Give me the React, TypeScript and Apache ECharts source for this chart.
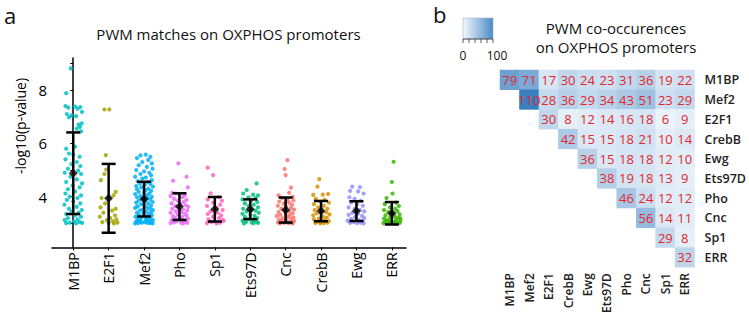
import React, { useEffect, useRef } from 'react';
import * as echarts from 'echarts';

// ---------- Panel a data ----------
const categories = ['M1BP', 'E2F1', 'Mef2', 'Pho', 'Sp1', 'Ets97D', 'Cnc', 'CrebB', 'Ewg', 'ERR'];
const pointColors = ['#00BFC4', '#A3A500', '#00B0F6', '#E76BF3', '#FF62BC', '#00BF7D', '#F8766D', '#D89000', '#9590FF', '#39B600'];
const meanValues = [4.88, 3.94, 3.91, 3.63, 3.53, 3.53, 3.5, 3.46, 3.46, 3.38];
const sdValues = [1.53, 1.29, 0.65, 0.5, 0.46, 0.37, 0.47, 0.38, 0.37, 0.42];
const yTickValues = [3, 4, 5, 6, 7, 8, 9];
const yLabelValues = [4, 6, 8];

// [jitter, -log10(p)]
const m1bpPoints = [
  [-0.07, 8.81], [-0.2, 7.88], [-0.22, 7.4], [0.05, 7.38], [-0.14, 7.34], [0.2, 7.36], [0.12, 7.3], [0.25, 7.18],
  [-0.18, 7.1], [-0.05, 7.05], [0.08, 7.02], [-0.12, 6.98], [0.24, 6.75], [0.15, 6.7], [0.19, 6.62], [0.1, 6.55],
  [0.22, 6.45], [0.05, 5.88], [-0.2, 5.8], [-0.12, 5.62], [0.0, 5.58], [0.18, 5.5], [-0.22, 5.4], [0.1, 5.3],
  [-0.05, 5.22], [0.2, 5.15], [-0.15, 5.05], [0.14, 4.98], [-0.24, 4.9], [0.22, 4.85], [-0.08, 4.75], [0.1, 4.65],
  [-0.2, 4.55], [0.25, 4.5], [-0.02, 4.42], [0.18, 4.35], [-0.15, 4.28], [0.05, 4.2], [-0.22, 4.12], [0.22, 4.05],
  [-0.1, 4.0], [0.12, 3.95], [-0.18, 3.88], [0.0, 3.82], [0.2, 3.75], [-0.25, 3.7], [0.1, 3.62], [-0.12, 3.55],
  [0.24, 3.5], [-0.05, 3.45], [0.15, 3.4], [-0.2, 3.35], [0.05, 3.3], [0.22, 3.25], [-0.15, 3.2], [0.12, 3.15],
  [-0.24, 3.12], [0.02, 3.08], [0.18, 3.05], [-0.1, 3.03], [0.25, 3.02], [-0.2, 3.01], [0.08, 3.0],
];
const e2f1Points = [
  [-0.12, 7.27], [0.02, 7.27], [-0.08, 5.56], [-0.07, 5.02], [-0.12, 4.85], [-0.22, 4.62], [0.2, 4.18], [0.14, 4.05],
  [-0.2, 3.95], [-0.1, 3.75], [-0.23, 3.6], [0.2, 3.55], [0.1, 3.48], [-0.15, 3.4], [0.18, 3.3], [-0.25, 3.25],
  [0.05, 3.2], [0.22, 3.15], [-0.05, 3.12], [0.12, 3.08], [-0.18, 3.05], [0.25, 3.03], [0.0, 3.02], [0.15, 3.0],
];
const mef2Points = [
  [-0.1, 5.55], [0.05, 5.58], [0.18, 5.5], [-0.2, 5.45], [0.12, 5.38], [-0.05, 5.3], [0.22, 5.25], [-0.15, 5.18],
  [0.08, 5.12], [0.24, 5.05], [-0.22, 5.0], [0.0, 4.95], [0.15, 4.9], [-0.1, 4.85], [0.2, 4.8], [-0.25, 4.75],
  [0.05, 4.72], [-0.05, 4.68], [0.22, 4.62], [-0.18, 4.58], [0.1, 4.55], [-0.12, 4.5], [0.18, 4.48], [0.02, 4.45],
  [-0.22, 4.4], [0.25, 4.38], [-0.08, 4.35], [0.12, 4.3], [-0.2, 4.28], [0.05, 4.25], [0.2, 4.22], [-0.15, 4.18],
  [0.0, 4.15], [0.15, 4.12], [-0.25, 4.1], [0.08, 4.05], [-0.1, 4.02], [0.22, 4.0], [-0.2, 3.98], [0.1, 3.95],
  [-0.05, 3.92], [0.18, 3.9], [-0.15, 3.86], [0.04, 3.84], [0.24, 3.8], [-0.22, 3.78], [0.12, 3.75], [-0.08, 3.72],
  [0.0, 3.7], [0.2, 3.66], [-0.18, 3.64], [0.08, 3.6], [-0.25, 3.58], [0.16, 3.55], [-0.04, 3.52], [0.25, 3.5],
  [-0.12, 3.48], [0.06, 3.45], [0.2, 3.42], [-0.2, 3.4], [-0.02, 3.38], [0.12, 3.35], [-0.15, 3.32], [0.22, 3.3],
  [0.0, 3.28], [-0.24, 3.25], [0.1, 3.22], [-0.08, 3.2], [0.18, 3.18], [-0.18, 3.15], [0.05, 3.14], [0.25, 3.12],
  [-0.12, 3.1], [0.14, 3.08], [-0.22, 3.07], [0.02, 3.05], [0.2, 3.04], [-0.06, 3.03], [0.1, 3.02], [-0.16, 3.01],
  [0.24, 3.0], [-0.25, 3.0], [0.17, 3.02], [-0.1, 3.06], [0.07, 3.09],
];
const phoPoints = [
  [-0.03, 5.25], [0.2, 4.75], [-0.18, 4.6], [0.24, 4.35], [-0.2, 4.15], [-0.1, 4.12], [0.0, 4.1], [0.15, 4.05],
  [-0.25, 4.02], [0.08, 3.98], [-0.15, 3.92], [0.2, 3.88], [-0.05, 3.85], [0.12, 3.8], [-0.22, 3.75], [0.02, 3.72],
  [0.18, 3.68], [-0.12, 3.65], [0.25, 3.62], [-0.02, 3.58], [-0.2, 3.55], [0.1, 3.52], [0.22, 3.48], [-0.1, 3.45],
  [0.05, 3.42], [-0.25, 3.4], [0.15, 3.36], [-0.05, 3.33], [0.2, 3.3], [-0.18, 3.27], [0.08, 3.24], [-0.12, 3.2],
  [0.24, 3.18], [0.0, 3.15], [-0.22, 3.12], [0.12, 3.1], [-0.08, 3.08], [0.18, 3.06], [-0.15, 3.04], [0.05, 3.03],
  [0.22, 3.02], [-0.25, 3.01], [0.1, 3.0],
];
const sp1Points = [
  [-0.2, 5.09], [-0.05, 4.81], [-0.12, 4.13], [0.1, 3.98], [-0.2, 3.9], [0.2, 3.85], [-0.05, 3.78], [0.15, 3.7],
  [-0.22, 3.65], [0.05, 3.58], [0.22, 3.5], [-0.12, 3.45], [0.08, 3.4], [-0.2, 3.35], [0.18, 3.3], [-0.05, 3.25],
  [0.12, 3.2], [-0.18, 3.15], [0.22, 3.12], [0.0, 3.08], [-0.1, 3.05], [0.15, 3.03], [-0.22, 3.01], [0.05, 3.0],
  [0.25, 3.1],
];
const ets97dPoints = [
  [0.18, 4.5], [-0.1, 4.25], [-0.2, 4.12], [0.08, 4.08], [0.22, 4.05], [-0.05, 3.98], [0.15, 3.95], [-0.22, 3.9],
  [0.02, 3.85], [0.2, 3.8], [-0.15, 3.75], [0.1, 3.7], [-0.05, 3.65], [0.22, 3.6], [-0.2, 3.55], [0.05, 3.52],
  [0.15, 3.48], [-0.1, 3.45], [0.24, 3.4], [-0.22, 3.36], [0.0, 3.32], [0.12, 3.28], [-0.15, 3.25], [0.2, 3.2],
  [-0.05, 3.16], [0.08, 3.12], [-0.22, 3.1], [0.18, 3.07], [-0.12, 3.05], [0.04, 3.03], [0.22, 3.02], [-0.18, 3.0],
  [0.1, 3.01],
];
const cncPoints = [
  [0.05, 5.37], [-0.03, 5.04], [0.0, 4.81], [0.15, 4.34], [0.1, 4.15], [-0.2, 4.05], [0.2, 4.0], [-0.1, 3.95],
  [0.05, 3.9], [0.22, 3.86], [-0.18, 3.82], [0.1, 3.78], [-0.05, 3.74], [0.18, 3.7], [-0.22, 3.66], [0.02, 3.62],
  [0.15, 3.58], [-0.12, 3.55], [0.24, 3.52], [-0.02, 3.48], [0.1, 3.45], [-0.2, 3.42], [0.2, 3.38], [0.0, 3.35],
  [-0.15, 3.32], [0.12, 3.3], [-0.25, 3.27], [0.06, 3.24], [0.22, 3.22], [-0.08, 3.19], [0.16, 3.16], [-0.18, 3.14],
  [0.02, 3.11], [0.24, 3.09], [-0.12, 3.07], [0.1, 3.05], [-0.22, 3.04], [0.18, 3.03], [-0.04, 3.02], [0.08, 3.01],
  [-0.16, 3.0], [0.2, 3.0],
];
const crebbPoints = [
  [-0.05, 4.66], [-0.1, 4.38], [-0.22, 4.07], [0.05, 4.08], [0.2, 4.1], [-0.15, 3.92], [0.1, 3.88], [-0.02, 3.82],
  [0.22, 3.78], [-0.2, 3.72], [0.08, 3.66], [-0.08, 3.6], [0.18, 3.55], [-0.18, 3.5], [0.0, 3.46], [0.14, 3.42],
  [-0.12, 3.38], [0.24, 3.34], [-0.22, 3.3], [0.05, 3.26], [0.16, 3.22], [-0.06, 3.18], [-0.2, 3.15], [0.1, 3.12],
  [0.22, 3.09], [-0.1, 3.07], [0.02, 3.05], [0.18, 3.03], [-0.16, 3.02], [0.08, 3.01], [-0.02, 3.0],
];
const ewgPoints = [
  [-0.12, 4.38], [0.1, 4.36], [-0.18, 4.22], [0.05, 4.2], [0.2, 4.12], [-0.2, 3.98], [-0.05, 3.92], [0.12, 3.85],
  [-0.15, 3.78], [0.02, 3.72], [0.18, 3.66], [-0.22, 3.6], [-0.05, 3.55], [0.1, 3.5], [0.22, 3.45], [-0.12, 3.4],
  [0.04, 3.36], [-0.22, 3.32], [0.16, 3.28], [-0.04, 3.24], [0.22, 3.2], [-0.15, 3.16], [0.08, 3.12], [-0.25, 3.1],
  [0.18, 3.08], [-0.08, 3.05], [0.12, 3.03], [-0.18, 3.02], [0.02, 3.01], [0.2, 3.0],
];
const errPoints = [
  [0.05, 5.31], [0.0, 4.55], [0.02, 4.12], [-0.15, 3.95], [0.12, 3.78], [-0.2, 3.72], [0.2, 3.65], [-0.05, 3.6],
  [0.1, 3.55], [-0.22, 3.5], [0.16, 3.46], [-0.1, 3.42], [0.04, 3.38], [0.22, 3.34], [-0.18, 3.3], [0.08, 3.27],
  [-0.05, 3.24], [0.18, 3.21], [-0.22, 3.18], [0.12, 3.15], [-0.1, 3.12], [0.24, 3.1], [0.0, 3.08], [-0.18, 3.06],
  [0.15, 3.04], [-0.05, 3.03], [0.22, 3.02], [-0.24, 3.01], [0.1, 3.0], [-0.12, 3.0], [0.06, 3.05], [-0.15, 3.11],
  [0.24, 3.19],
];
const allPoints = [m1bpPoints, e2f1Points, mef2Points, phoPoints, sp1Points, ets97dPoints, cncPoints, crebbPoints, ewgPoints, errPoints];

// ---------- Panel b data ----------
const heatNames = ['M1BP', 'Mef2', 'E2F1', 'CrebB', 'Ewg', 'Ets97D', 'Pho', 'Cnc', 'Sp1', 'ERR'];
// row i lists counts for columns i..9
const heatRows = [
  [79, 71, 17, 30, 24, 23, 31, 36, 19, 22],
  [110, 28, 36, 29, 34, 43, 51, 23, 29],
  [30, 8, 12, 14, 16, 18, 6, 9],
  [42, 15, 15, 18, 21, 10, 14],
  [36, 15, 18, 18, 12, 10],
  [38, 19, 18, 13, 9],
  [46, 24, 12, 12],
  [56, 14, 11],
  [29, 8],
  [32],
];
const legendTicks = [0, 20, 40, 60, 80, 100];
const legendLabels = ['0', '100'];

const FONT = "'Open Sans', sans-serif";
const LOW = '#f4f9fd';
const HIGH = '#3a7fc0';

export default function App() {
  const ref = useRef<HTMLDivElement>(null);

  useEffect(() => {
    if (!ref.current) return;
    const chart = echarts.init(ref.current, null, { renderer: 'svg' });

    const heatData: number[][] = [];
    heatRows.forEach((row, i) => row.forEach((v, k) => heatData.push([i + k, i, v])));

    const scatterSeries = allPoints.map((pts, i) => ({
      type: 'scatter',
      xAxisIndex: 0,
      yAxisIndex: 0,
      data: pts.map(([j, v]) => [i + j, v]),
      symbolSize: 4.2,
      itemStyle: { color: pointColors[i], opacity: 0.85 },
      silent: true,
      z: 2,
    }));

    const errData = categories.map((_, i) => [i, meanValues[i] - sdValues[i], meanValues[i] + sdValues[i]]);

    // legend bar geometry
    const lx = 463, ly = 18, lw = 30, lh = 21;

    const option: any = {
      animation: false,
      textStyle: { fontFamily: FONT },
      grid: [
        { left: 52, top: 58, width: 354, height: 189.4 },
        { left: 500, top: 70, width: 200, height: 200 },
      ],
      xAxis: [
        {
          type: 'value', gridIndex: 0, min: -0.6, max: 9.4,
          splitLine: { show: false },
          axisLine: { show: true, lineStyle: { color: '#000', width: 1.5 } },
          axisTick: { show: true, customValues: categories.map((_, i) => i), length: 3, lineStyle: { color: '#000' } },
          axisLabel: {
            customValues: categories.map((_, i) => i),
            formatter: (v: number) => categories[Math.round(v)],
            rotate: 90, fontSize: 14, color: '#000', margin: 5, fontFamily: FONT,
          },
        },
        {
          type: 'category', gridIndex: 1, data: heatNames, position: 'bottom',
          axisLine: { show: false }, axisTick: { show: false }, splitLine: { show: false },
          axisLabel: { rotate: 90, fontSize: 12, fontWeight: 600, color: '#222', margin: 6, fontFamily: FONT },
        },
      ],
      yAxis: [
        {
          type: 'value', gridIndex: 0, min: 2.1, max: 9.2,
          splitLine: { show: false },
          axisLine: { show: true, lineStyle: { color: '#000', width: 1.5 } },
          axisTick: { show: true, customValues: yTickValues, length: 3, lineStyle: { color: '#000' } },
          axisLabel: { customValues: yLabelValues, fontSize: 15, color: '#000', margin: 5, fontFamily: FONT },
        },
        {
          type: 'category', gridIndex: 1, data: heatNames, inverse: true, position: 'right',
          axisLine: { show: false }, axisTick: { show: false }, splitLine: { show: false },
          axisLabel: { fontSize: 12.5, fontWeight: 600, color: '#222', margin: 10, fontFamily: FONT },
        },
      ],
      visualMap: {
        type: 'continuous', min: 0, max: 110, show: false, seriesIndex: 12,
        inRange: { color: [LOW, HIGH] },
      },
      series: [
        ...scatterSeries,
        {
          type: 'custom',
          xAxisIndex: 0,
          yAxisIndex: 0,
          data: errData,
          z: 5,
          silent: true,
          renderItem: (_p: any, api: any) => {
            const x = api.value(0);
            const lo = api.coord([x, api.value(1)]);
            const hi = api.coord([x, api.value(2)]);
            const hw = 7;
            const st = { stroke: '#000', lineWidth: 2.5 };
            return {
              type: 'group',
              children: [
                { type: 'line', shape: { x1: lo[0], y1: lo[1], x2: hi[0], y2: hi[1] }, style: st },
                { type: 'line', shape: { x1: lo[0] - hw, y1: lo[1], x2: lo[0] + hw, y2: lo[1] }, style: st },
                { type: 'line', shape: { x1: hi[0] - hw, y1: hi[1], x2: hi[0] + hw, y2: hi[1] }, style: st },
              ],
            };
          },
        },
        {
          type: 'scatter',
          xAxisIndex: 0,
          yAxisIndex: 0,
          data: meanValues.map((m, i) => [i, m]),
          symbol: 'diamond',
          symbolSize: 9,
          itemStyle: { color: '#000' },
          silent: true,
          z: 6,
        },
        {
          type: 'heatmap',
          xAxisIndex: 1,
          yAxisIndex: 1,
          data: heatData,
          silent: true,
          label: { show: true, color: '#e3262c', fontSize: 13, fontFamily: FONT },
        },
      ],
      graphic: [
        {
          type: 'text', x: 4, y: 15,
          style: { text: 'a', font: `22px ${FONT}`, fill: '#111', align: 'left', verticalAlign: 'middle' },
        },
        {
          type: 'text', x: 433, y: 14,
          style: { text: 'b', font: `22px ${FONT}`, fill: '#111', align: 'left', verticalAlign: 'middle' },
        },
        {
          type: 'text', x: 228.5, y: 33.5,
          style: { text: 'PWM matches on OXPHOS promoters', font: `15px ${FONT}`, fill: '#111', align: 'center', verticalAlign: 'middle' },
        },
        {
          type: 'text', x: 616, y: 27.5,
          style: { text: 'PWM co-occurences', font: `15px ${FONT}`, fill: '#111', align: 'center', verticalAlign: 'middle' },
        },
        {
          type: 'text', x: 616, y: 46.5,
          style: { text: 'on OXPHOS promoters', font: `15px ${FONT}`, fill: '#111', align: 'center', verticalAlign: 'middle' },
        },
        {
          type: 'text', x: 20, y: 126, rotation: Math.PI / 2,
          style: { text: '-log10(p-value)', font: `14px ${FONT}`, fill: '#000', align: 'center', verticalAlign: 'middle' },
        },
        {
          type: 'rect', shape: { x: lx, y: ly, width: lw, height: lh },
          style: {
            fill: new echarts.graphic.LinearGradient(0, 0, 1, 0, [
              { offset: 0, color: LOW },
              { offset: 1, color: '#4a8bc8' },
            ]),
            stroke: '#9fb4c6', lineWidth: 0.6,
          },
        },
        ...legendTicks.map((t) => ({
          type: 'line',
          shape: { x1: lx + (t / 100) * lw, y1: ly + lh, x2: lx + (t / 100) * lw, y2: ly + lh + 4 },
          style: { stroke: '#333', lineWidth: 0.8 },
        })),
        {
          type: 'line', shape: { x1: lx, y1: ly + lh, x2: lx + lw, y2: ly + lh },
          style: { stroke: '#333', lineWidth: 0.8 },
        },
        {
          type: 'text', x: lx, y: 55,
          style: { text: legendLabels[0], font: `12px ${FONT}`, fill: '#111', align: 'center', verticalAlign: 'middle' },
        },
        {
          type: 'text', x: lx + lw + 4, y: 55,
          style: { text: legendLabels[1], font: `12px ${FONT}`, fill: '#111', align: 'center', verticalAlign: 'middle' },
        },
      ],
    };

    chart.setOption(option);
    return () => chart.dispose();
  }, []);

  return <div ref={ref} style={{ position: 'absolute', left: 0, top: 0, width: 749, height: 316 }} />;
}
